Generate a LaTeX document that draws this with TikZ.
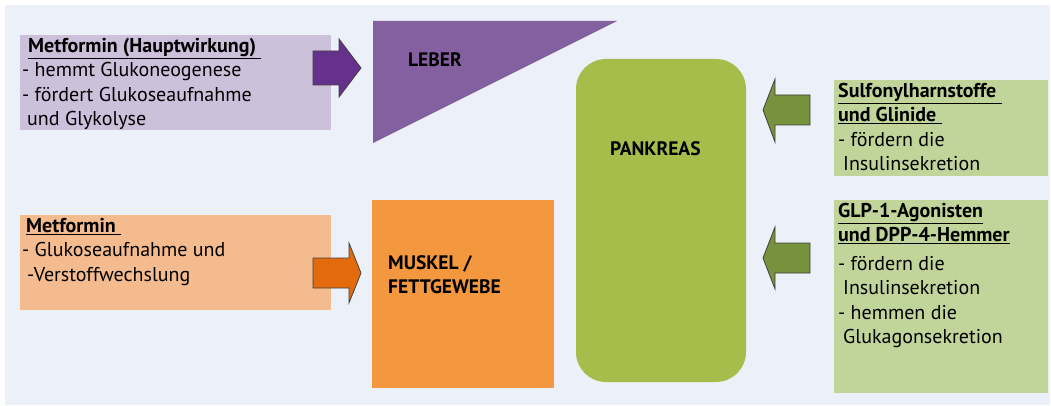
\documentclass[tikz,border=0pt]{standalone}
\usepackage{fontspec}
\setmainfont{PT Sans}
\definecolor{bgblue}{HTML}{EBF0F9}
\definecolor{lavender}{HTML}{CCC0DA}
\definecolor{purpledark}{HTML}{66318C}
\definecolor{liver}{HTML}{8560A0}
\definecolor{apricot}{HTML}{F4BC8E}
\definecolor{orangedark}{HTML}{E36B0E}
\definecolor{muscle}{HTML}{F3983F}
\definecolor{pancreas}{HTML}{A6BC4B}
\definecolor{sage}{HTML}{C1D59B}
\definecolor{olivedark}{HTML}{76923C}
\newcommand{\hd}[1]{\underline{\textbf{#1}~}}
\begin{document}
\begin{tikzpicture}[x=1pt,y=-1pt,
  panel/.style={anchor=north west, inner sep=0pt, outer sep=0pt},
  txt/.style={anchor=north west, inner sep=0pt, align=left,
    font=\fontsize{20}{24.5}\selectfont},
  lbl/.style={anchor=west, inner sep=0pt, align=left,
    font=\fontsize{19.5}{24}\selectfont\bfseries},
  blockarrow/.style={draw=black!75, line width=0.8pt, line join=miter}]
\useasboundingbox (0,0) rectangle (1051,406);
\fill[white] (0,0) rectangle (1051,406);
\fill[bgblue] (5,5) rectangle (1050,405);

% organs
\fill[liver] (373,21) coordinate (leberA) -- (617,21) -- (373,143) -- cycle;
\node[lbl] (leber) at (408,60) {LEBER};
\node[panel, fill=muscle, minimum width=182pt, minimum height=188pt] (muskel) at (372,200) {};
\node[lbl] (muskeltxt) at (388,275) {MUSKEL /\\FETTGEWEBE};
\node[panel, fill=pancreas, rounded corners=30pt, minimum width=170pt, minimum height=323pt] (pankreas) at (576,59) {};
\node[lbl] (pankreastxt) at (610,149) {PANKREAS};

% drug boxes
\node[panel, fill=lavender, minimum width=311pt, minimum height=95pt] (haupt) at (20,35) {};
\node[txt] (hauptTxt) at (22,38) {\hspace*{6pt}\hd{Metformin (Hauptwirkung)}\\- hemmt Glukoneogenese\\- fördert Glukoseaufnahme\\\hspace*{5pt}und Glykolyse};

\node[panel, fill=apricot, minimum width=311pt, minimum height=95pt] (metf) at (20,215) {};
\node[txt] (metfTxt) at (22,218) {\hspace*{4pt}\hd{Metformin}\\- Glukoseaufnahme und\\\hspace*{5pt}-Verstoffwechslung};

\node[panel, fill=sage, minimum width=214pt, minimum height=96pt] (sulf) at (834,80) {};
\node[txt] (sulfTxt) at (838,83) {\hd{Sulfonylharnstoffe}\\\hd{und Glinide}\\- fördern die\\\hspace*{5pt}Insulinsekretion};

\node[panel, fill=sage, minimum width=214pt, minimum height=193pt] (glp) at (834,200) {};
\node[txt] (glpTxt) at (838,203) {\textbf{\underline{GLP-1-Agonisten}}\\\textbf{\underline{und DPP-4-Hemmer}}\\[4pt]- fördern die\\\hspace*{5pt}Insulinsekretion\\- hemmen die\\\hspace*{5pt}Glukagonsekretion};

% block arrows
\draw[blockarrow, fill=purpledark] (313,51) -- (339,51) -- (339,39) -- (361,68) -- (339,97) -- (339,85) -- (313,85) -- cycle;
\draw[blockarrow, fill=orangedark] (313,258) -- (349,258) -- (349,243) -- (361,273) -- (349,303) -- (349,288) -- (313,288) -- cycle;
\draw[blockarrow, fill=olivedark] (810,95) -- (775,95) -- (775,79) -- (763,110) -- (775,142) -- (775,125) -- (810,125) -- cycle;
\draw[blockarrow, fill=olivedark] (810,243) -- (775,243) -- (775,227) -- (763,258) -- (775,289) -- (775,273) -- (810,273) -- cycle;
\end{tikzpicture}
\end{document}
